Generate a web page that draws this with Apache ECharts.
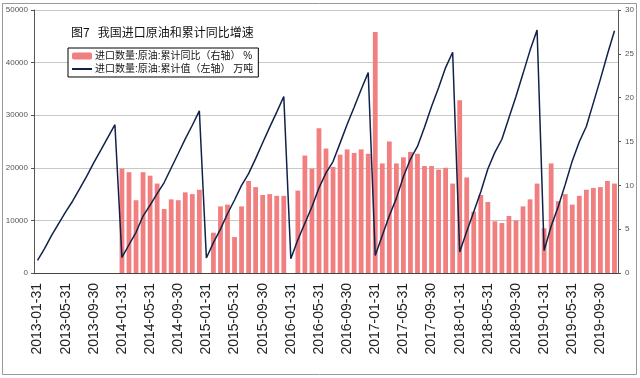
<!DOCTYPE html>
<html>
<head>
<meta charset="utf-8">
<script src="https://cdn.jsdelivr.net/npm/echarts@6/dist/echarts.min.js"></script>
<style>
  html, body { margin: 0; padding: 0; background: #fff; }
  #chart1 { width: 640px; height: 378px; }
</style>
</head>
<body>
<div id="chart1"></div>
<script>
// month-end dates, 2013-01 .. 2019-11
var years = [2013, 2014, 2015, 2016, 2017, 2018, 2019];
var monthEnds = ['01-31', '02-28', '03-31', '04-30', '05-31', '06-30',
                 '07-31', '08-31', '09-30', '10-31', '11-30', '12-31'];

// 累计值 (万吨), left axis
var cumValue = [
    2400, 4650, 7150, 9380, 11620, 13690, 16030, 18420, 20980, 23350, 25770, 28195,
    2950, 5370, 7740, 10830, 12900, 15090, 17200, 19970, 22720, 25500, 28090, 30837,
    2850, 5780, 8350, 11270, 13880, 16670, 18890, 21750, 24760, 27740, 30590, 33550,
    2700, 6320, 9470, 12610, 16170, 19040, 21180, 24690, 28230, 31510, 34870, 38101,
    3350, 7110, 10890, 14190, 18300, 21670, 24060, 27700, 31670, 35230, 39050, 41957,
    3980, 7890, 11650, 15450, 19780, 22940, 25430, 29500, 33570, 37910, 42330, 46190,
    4250, 8880, 12610, 16840, 21310, 24960, 27850, 32350, 36860, 41600, 46050
];

// 累计同比 (%), right axis
var yoy = [
    null, null, null, null, null, null, null, null, null, null, null, null,
    11.9, 11.5, 8.3, 11.5, 11.1, 10.2, 7.3, 8.4, 8.3, 9.2, 9.0, 9.5,
    null, 4.6, 7.6, 7.8, 4.1, 7.6, 10.5, 9.8, 8.9, 9.0, 8.8, 8.8,
    null, 9.4, 13.4, 11.9, 16.5, 14.2, 12.1, 13.5, 14.1, 13.7, 14.1, 13.6,
    27.5, 12.5, 15.0, 12.5, 13.2, 13.8, 13.6, 12.2, 12.2, 11.8, 12.0, 10.2,
    19.7, 10.9, 7.0, 8.9, 8.1, 5.9, 5.7, 6.5, 6.0, 7.6, 8.4, 10.2,
    5.1, 12.5, 8.2, 9.0, 7.8, 8.8, 9.5, 9.7, 9.8, 10.5, 10.2
];

var dates = [];
for (var y = 0; y < years.length; y++) {
    for (var m = 0; m < 12; m++) {
        if (dates.length >= cumValue.length) break;
        var d = monthEnds[m];
        if (m == 1 && years[y] % 4 == 0) d = '02-29';
        dates.push(years[y] + '-' + d);
    }
}

var barName = '进口数量:原油:累计同比（右轴） %';
var lineName = '进口数量:原油:累计值（左轴） 万吨';
var font = "'Liberation Sans', 'Noto Sans CJK SC', sans-serif";

var myChart = echarts.init(document.getElementById('chart1'));

option = {
    animation: false,
    textStyle: { fontFamily: font },
    title: {
        text: '图7   我国进口原油和累计同比增速',
        left: 66,
        top: 21,
        textStyle: { fontSize: 12, fontWeight: 'normal', color: '#111', fontFamily: "'Noto Sans CJK SC', sans-serif" }
    },
    legend: {
        orient: 'vertical',
        left: 68,
        top: 48,
        padding: [3, 5, 3, 3],
        itemGap: 3,
        itemWidth: 20,
        itemHeight: 7,
        borderColor: '#000',
        borderWidth: 1,
        backgroundColor: '#fff',
        textStyle: { fontSize: 10, color: '#111', padding: [0, 0, 0, -2] },
        data: [barName, { name: lineName, itemStyle: { opacity: 0 } }]
    },
    grid: { left: 34, right: 22, top: 10, bottom: 105 },
    xAxis: {
        type: 'category',
        data: dates,
        axisLine: { lineStyle: { color: '#444' } },
        axisTick: { inside: true, length: 4, interval: 0, lineStyle: { color: '#444' } },
        axisLabel: { interval: 3, rotate: 90, fontSize: 14, color: '#222', margin: 10 }
    },
    yAxis: [
        {
            type: 'value',
            min: 0, max: 50000, interval: 10000,
            axisLine: { show: true, lineStyle: { color: '#555' } },
            axisTick: { show: true, length: 3, lineStyle: { color: '#555' } },
            axisLabel: { fontSize: 8, color: '#555', margin: 6, formatter: function (v) { return String(v); } },
            splitLine: { lineStyle: { color: '#c8c8c8' } }
        },
        {
            type: 'value',
            min: 0, max: 30, interval: 5,
            axisLine: { show: true, lineStyle: { color: '#555' } },
            axisTick: { show: true, length: 3, lineStyle: { color: '#555' } },
            axisLabel: { fontSize: 8, color: '#555', margin: 7 },
            splitLine: { show: false }
        }
    ],
    series: [
        {
            name: barName,
            type: 'bar',
            yAxisIndex: 1,
            data: yoy,
            barCategoryGap: '32%',
            itemStyle: { color: '#f27f7f' },
            z: 2
        },
        {
            name: lineName,
            type: 'line',
            yAxisIndex: 0,
            data: cumValue,
            symbol: 'none',
            lineStyle: { color: '#10214a', width: 1.5 },
            z: 3
        }
    ],
    graphic: [
        {
            type: 'rect',
            shape: { x: 2.5, y: 3.5, width: 634, height: 371 },
            style: { fill: 'none', stroke: '#999', lineWidth: 1 },
            silent: true
        }
    ]
};
myChart.setOption(option);
</script>
</body>
</html>
